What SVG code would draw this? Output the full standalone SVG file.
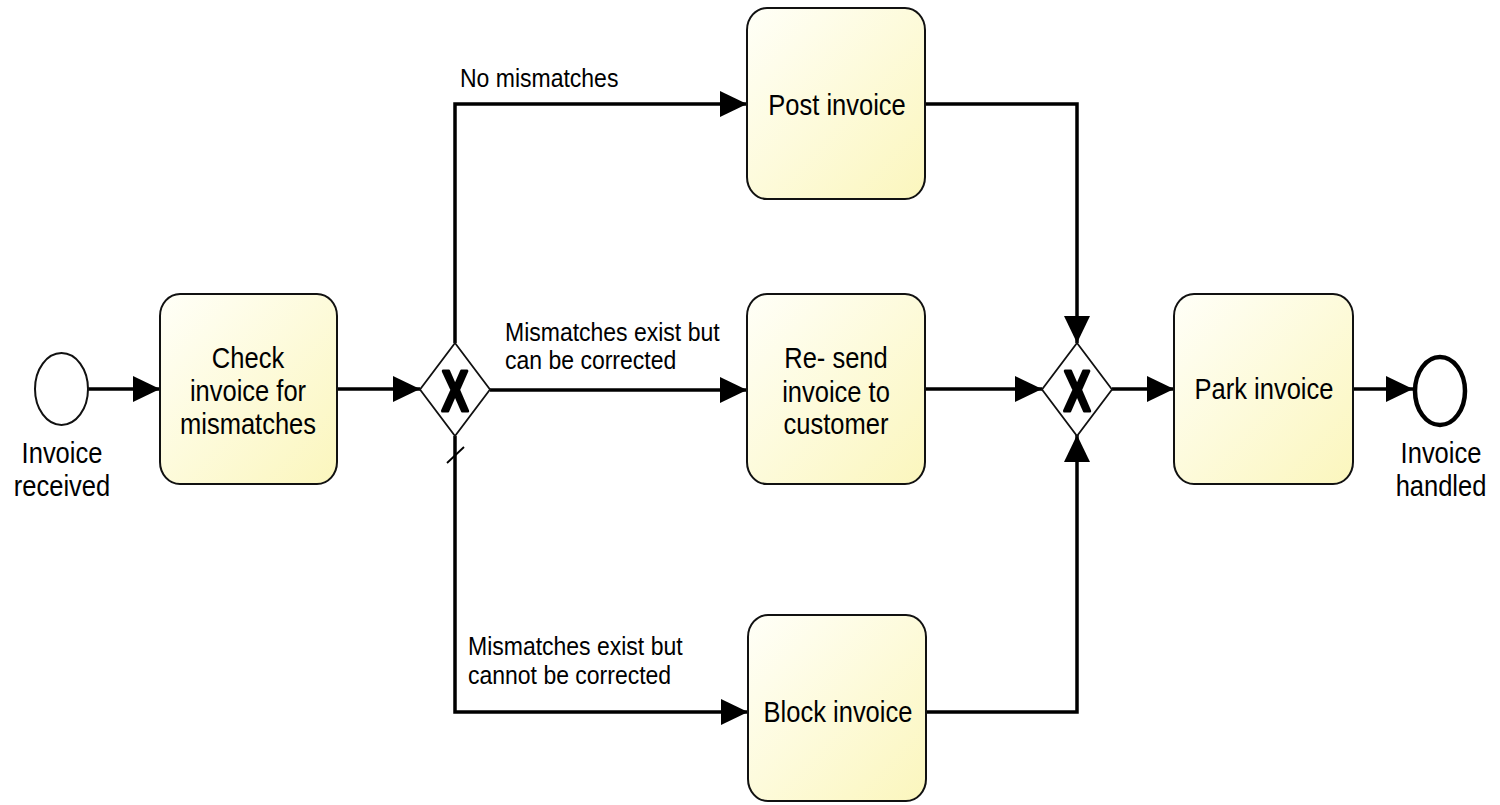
<svg xmlns="http://www.w3.org/2000/svg" width="1500" height="805" viewBox="0 0 1500 805">
<defs>
<linearGradient id="taskFill" x1="0" y1="0" x2="1" y2="1">
<stop offset="0" stop-color="#fffff8"/>
<stop offset="1" stop-color="#fbf6bd"/>
</linearGradient>
<marker id="arrow" markerUnits="userSpaceOnUse" markerWidth="28" markerHeight="28" refX="27" refY="13" orient="auto">
<path d="M0,0 L27,13 L0,26 z" fill="#000"/>
</marker>
</defs>
<style>
.task{fill:url(#taskFill);stroke:#111;stroke-width:2}
.gw{fill:#fff;stroke:#111;stroke-width:1.8}
.flow{fill:none;stroke:#000;stroke-width:3.5;marker-end:url(#arrow)}
.t{font-family:"Liberation Sans",Arial,sans-serif;font-size:25.5px;fill:#000;text-anchor:middle}
.lbl{font-family:"Liberation Sans",Arial,sans-serif;font-size:23px;fill:#000}
.gx{font-family:"Liberation Sans",Arial,sans-serif;font-size:40px;font-weight:bold;fill:#000;stroke:#000;stroke-width:2.2;stroke-linejoin:round;text-anchor:middle}
</style>
<rect width="1500" height="805" fill="#fff"/>
<g id="connectors">
<path class="flow" d="M88,389 H160"/>
<path class="flow" d="M337,389 H420"/>
<path class="flow" d="M455,343 V104 H747"/>
<path class="flow" d="M490,390 H747"/>
<path class="flow" d="M455,436 V712 H748"/>
<path class="flow" d="M925,104 H1077 V343"/>
<path class="flow" d="M925,389 H1042"/>
<path class="flow" d="M926,712 H1077 V435"/>
<path class="flow" d="M1112,389 H1174"/>
<path class="flow" d="M1353,389 H1413"/>
<line x1="447" y1="463" x2="464" y2="447" stroke="#000" stroke-width="1.8"/>
<text class="lbl" transform="translate(460,87) scale(1,1.16)">No mismatches</text>
<text class="lbl" transform="translate(505,341) scale(1,1.16)">Mismatches exist but</text>
<text class="lbl" transform="translate(505,369) scale(1,1.16)">can be corrected</text>
<text class="lbl" transform="translate(468,655) scale(1,1.16)">Mismatches exist but</text>
<text class="lbl" transform="translate(468,684) scale(1,1.16)">cannot be corrected</text>
</g>
<g id="start">
<ellipse cx="61.5" cy="389" rx="26.5" ry="36" fill="#fff" stroke="#111" stroke-width="2"/>
<text class="t" transform="translate(62,463) scale(1,1.16)">Invoice</text>
<text class="t" transform="translate(62,496) scale(1,1.16)">received</text>
</g>
<g id="check">
<rect class="task" x="160" y="294" width="177" height="190" rx="20" ry="22"/>
<text class="t" transform="translate(248,368) scale(1,1.16)">Check</text>
<text class="t" transform="translate(248,401) scale(1,1.16)">invoice for</text>
<text class="t" transform="translate(248,434) scale(1,1.16)">mismatches</text>
</g>
<g id="gateway1">
<polygon class="gw" points="455,343 490,389.5 455,436 420,389.5"/>
<text class="gx" transform="translate(455,411) scale(1,1.45)">X</text>
</g>
<g id="post">
<rect class="task" x="747" y="8" width="178" height="191" rx="20" ry="22"/>
<text class="t" transform="translate(837,115) scale(1,1.16)">Post invoice</text>
</g>
<g id="resend">
<rect class="task" x="747" y="294" width="178" height="190" rx="20" ry="22"/>
<text class="t" transform="translate(836,368) scale(1,1.16)">Re- send</text>
<text class="t" transform="translate(836,402) scale(1,1.16)">invoice to</text>
<text class="t" transform="translate(836,434) scale(1,1.16)">customer</text>
</g>
<g id="block">
<rect class="task" x="748" y="615" width="178" height="186" rx="20" ry="22"/>
<text class="t" transform="translate(838,722) scale(1,1.16)">Block invoice</text>
</g>
<g id="gateway2">
<polygon class="gw" points="1077,343 1112,389.5 1077,436 1042,389.5"/>
<text class="gx" transform="translate(1077,411) scale(1,1.45)">X</text>
</g>
<g id="park">
<rect class="task" x="1174" y="294" width="179" height="190" rx="20" ry="22"/>
<text class="t" transform="translate(1264,399) scale(1,1.16)">Park invoice</text>
</g>
<g id="end">
<ellipse cx="1440" cy="391" rx="25" ry="34" fill="#fff" stroke="#000" stroke-width="4.5"/>
<text class="t" transform="translate(1441,463) scale(1,1.16)">Invoice</text>
<text class="t" transform="translate(1441,496) scale(1,1.16)">handled</text>
</g>
</svg>
